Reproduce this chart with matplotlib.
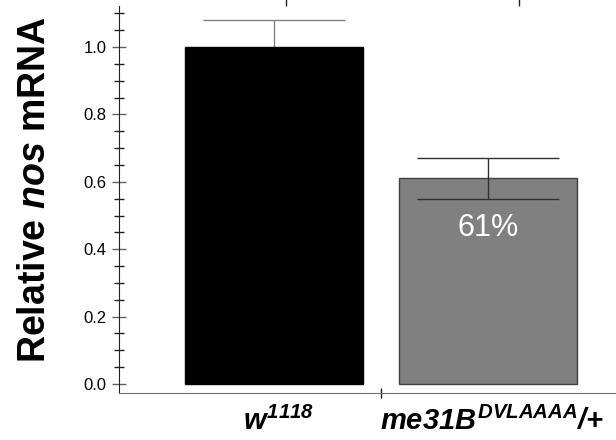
import numpy as np
import matplotlib
matplotlib.use("Agg")
import matplotlib.pyplot as plt
from matplotlib.ticker import MultipleLocator, FixedLocator

plt.rcParams['font.family'] = ['Liberation Sans', 'DejaVu Sans']
plt.rcParams['mathtext.fontset'] = 'custom'
plt.rcParams['mathtext.it'] = 'Liberation Sans:italic:bold'
plt.rcParams['mathtext.rm'] = 'Liberation Sans:italic:bold'
plt.rcParams['mathtext.bf'] = 'Liberation Sans:italic:bold'

# data
genotypes = [r'$\mathit{w}^{\mathit{1118}}$', r'$\mathit{me31B}^{\mathit{DVLAAAA}}{/}{+}$']
values = [1.0, 0.611]
errors = [0.08, 0.061]
bar_colors = ['#000000', '#808080']
edge_colors = ['#000000', '#404040']
err_colors = ['#808080', '#303030']
pct_label = '61%'

fig = plt.figure(figsize=(6.16, 4.4), dpi=100)
ax = fig.add_axes([119 / 616, 1 - 393 / 440, 1 - 119 / 616, (393 - 6) / 440])

x = np.arange(len(values))
ax.bar(x, values, width=0.832, color=bar_colors, edgecolor=edge_colors, linewidth=1, zorder=2)
for xi, v, e, c in zip(x, values, errors, err_colors):
    ax.errorbar(xi, v, yerr=e, fmt='none', ecolor=c, elinewidth=1, capsize=51, capthick=1,
                zorder=1 if xi == 0 else 3)

ax.text(x[1], 0.463, pct_label, color='white', fontsize=22, ha='center', va='center', zorder=4)

ax.set_xlim(-0.724, 1.598)
ax.set_ylim(-0.0267, 1.1217)

ax.spines['top'].set_visible(False)
ax.spines['right'].set_visible(False)
ax.spines['bottom'].set_color('#707070')
ax.spines['left'].set_color('#202020')

ax.yaxis.set_major_locator(MultipleLocator(0.2))
ax.yaxis.set_minor_locator(MultipleLocator(0.05))
ax.yaxis.set_major_formatter(plt.FuncFormatter(lambda v, p: f'{v:.1f}'))
ax.tick_params(axis='y', which='major', direction='inout', length=10, width=1,
               color='#606060', labelsize=12, pad=4)
ax.tick_params(axis='y', which='minor', direction='inout', length=7, width=1, color='#202020')

ax.xaxis.set_major_locator(FixedLocator([0.5]))
ax.set_xticklabels([''])
ax.tick_params(axis='x', which='major', direction='inout', length=7, width=1, color='#202020')
for xi, lab in zip(x, genotypes):
    ax.text(xi + 0.02, -0.068, lab, fontsize=21, ha='center', va='top',
            transform=ax.transData)

# ticks of the cropped upper axis
top = ax.secondary_xaxis('top')
top.set_xticks([0.056, 1.145])
top.set_xticklabels(['', ''])
top.spines['top'].set_visible(False)
top.tick_params(direction='out', length=7, width=1, color='#202020')

ax.set_ylabel(r'Relative $\mathit{nos}$ mRNA', fontsize=27, fontweight='bold')
ax.yaxis.set_label_coords(-0.133, 0.527)

fig.savefig('out.png', dpi=100)
